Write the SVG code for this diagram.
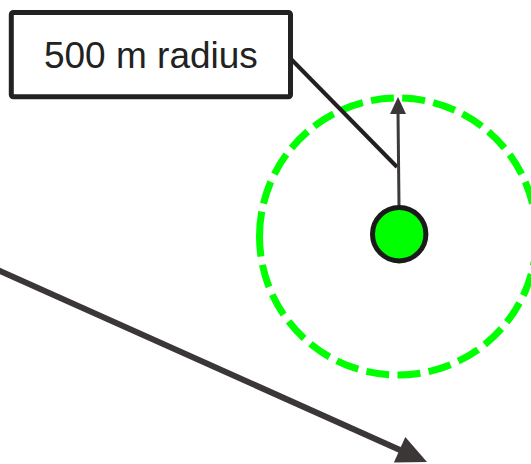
<svg xmlns="http://www.w3.org/2000/svg" width="531" height="464" viewBox="0 0 531 464">
<style>
.box{fill:#fff;stroke:#222;stroke-width:5}
.lbl{font-family:"Liberation Sans",Arial,sans-serif;font-size:37px;fill:#222;text-anchor:middle}
.zone{fill:none;stroke:#00ff00;stroke-width:7;stroke-dasharray:24.9 8.4 23 8.4 23 8.4 23 8.4 23 8.4 23 8.4 23 8.4 23 8.4 23 8.4 23 8.4 23 8.4 23 8.4 23 8.4 23 8.4 23 8.4 23 8.4 23 8.4 23 8.4 23 8.4 23 8.4 23 8.4 23 8.4 23 8.4 23 8.4 23 8.4 23 8.4 23 8.4 20.5 10}
.site{fill:#00ff00;stroke:#1a1a1a;stroke-width:5}
.leader{fill:none;stroke:#231f20;stroke-width:4}
.rad{fill:none;stroke:#3d3a3a;stroke-width:3}
.dir{fill:none;stroke:#3b3737;stroke-width:6}
.head{fill:#3b3737;stroke:none}
</style>
<g id="zone">
<path class="zone" d="M259.5 236.5 A138.5 138.5 0 0 1 536.5 236.5 A138.5 138.5 0 0 1 259.5 236.5"/>
</g>
<g id="connectors">
<line class="leader" x1="290" y1="58" x2="397" y2="167"/>
<line class="rad" x1="399" y1="206" x2="398" y2="111"/>
<polygon class="head" points="398,97 406,114 390,114"/>
<line class="dir" x1="-5" y1="268.8" x2="400" y2="449.9"/>
<polygon class="head" points="427,462 393.9,462.5 405.3,437"/>
</g>
<g id="site">
<circle class="site" cx="399.2" cy="234.2" r="26.7"/>
</g>
<g id="label">
<rect class="box" x="11.3" y="12.5" width="279.2" height="84.3" rx="2"/>
<text class="lbl" x="150.9" y="67.5">500 m radius</text>
</g>
</svg>
